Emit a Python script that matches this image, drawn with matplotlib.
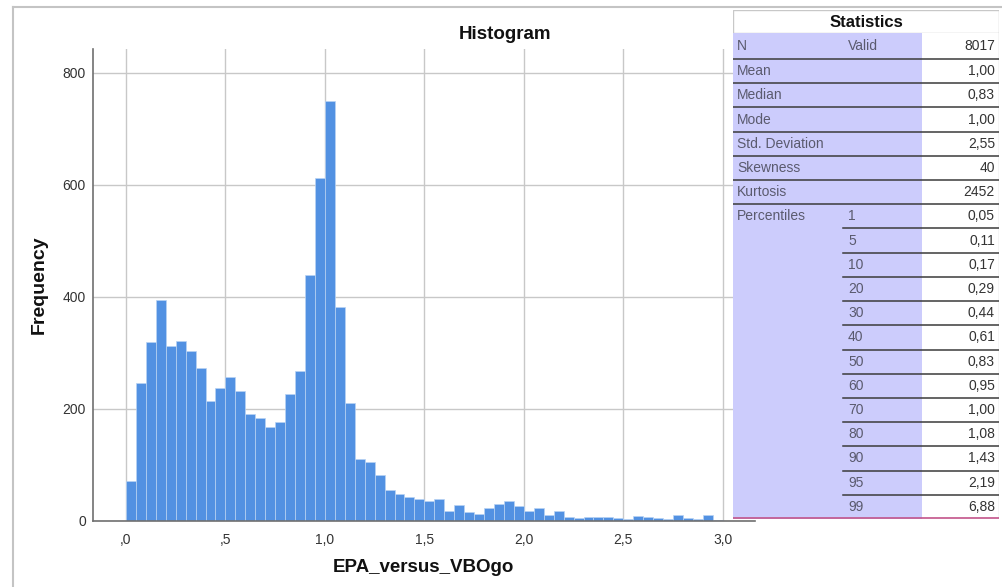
import numpy as np
import matplotlib
matplotlib.use('Agg')
import matplotlib.pyplot as plt
from matplotlib.patches import Rectangle
from matplotlib.lines import Line2D

plt.rcParams['font.family'] = ['Liberation Sans', 'DejaVu Sans']

# histogram: 60 bins of width 0.05 from 0 to 3.0
bin_width = 0.05
counts = [71, 247, 319, 395, 313, 321, 303, 273, 214, 237,
          257, 232, 190, 184, 168, 176, 227, 268, 438, 611,
          749, 382, 211, 110, 105, 82, 55, 48, 43, 39,
          35, 39, 17, 29, 16, 13, 24, 30, 36, 27,
          18, 24, 11, 17, 8, 5, 8, 8, 8, 5,
          4, 9, 7, 6, 4, 10, 6, 4, 10, 2]
xticks = [0.0, 0.5, 1.0, 1.5, 2.0, 2.5, 3.0]
xtick_labels = [',0', ',5', '1,0', '1,5', '2,0', '2,5', '3,0']
yticks = [0, 200, 400, 600, 800]

# statistics table
stat_names = ['N', 'Mean', 'Median', 'Mode', 'Std. Deviation', 'Skewness', 'Kurtosis']
stat_sub = ['Valid', '', '', '', '', '', '']
stat_values = ['8017', '1,00', '0,83', '1,00', '2,55', '40', '2452']
pct_levels = ['1', '5', '10', '20', '30', '40', '50', '60', '70', '80', '90', '95', '99']
pct_values = ['0,05', '0,11', '0,17', '0,29', '0,44', '0,61', '0,83', '0,95',
              '1,00', '1,08', '1,43', '2,19', '6,88']

W, H = 1003, 587
fig = plt.figure(figsize=(W / 100, H / 100), dpi=100)

# main histogram axes
ax = fig.add_axes([92.7 / W, (H - 521) / H, (755 - 92.7) / W, (521 - 49) / H])
edges = np.arange(len(counts)) * bin_width
ax.bar(edges, counts, width=bin_width, align='edge', color='#5291e2',
       edgecolor='#b9d3f3', linewidth=0.5, zorder=3)
ax.set_xlim(-0.167, 3.162)
ax.set_ylim(0, 842)
ax.set_xticks(xticks)
ax.set_xticklabels(xtick_labels)
ax.set_yticks(yticks)
ax.tick_params(length=0, labelsize=10, labelcolor='#333333')
ax.tick_params(axis='x', pad=9)
ax.tick_params(axis='y', pad=5)
ax.grid(True, color='#c8c8c8', linewidth=1.0, zorder=0)
for s in ['top', 'right']:
    ax.spines[s].set_visible(False)
for s in ['left', 'bottom']:
    ax.spines[s].set_color('#707070')
    ax.spines[s].set_linewidth(1.2)
    ax.spines[s].set_zorder(4)

fig.text(505.5 / W, 1 - 34.5 / H, 'Histogram', ha='center', va='center',
         fontsize=13.5, fontweight='bold', color='#111111')
fig.text(39.5 / W, 1 - 285 / H, 'Frequency', ha='center', va='center',
         rotation=90, fontsize=14, fontweight='bold', color='#111111')
fig.text(423 / W, 1 - 568 / H, 'EPA_versus_VBOgo', ha='center', va='center',
         fontsize=13.5, fontweight='bold', color='#111111')

# screenshot border
fig.add_artist(Line2D([12.7 / W, 12.7 / W], [0, 1 - 6.7 / H],
                      transform=fig.transFigure, color='#c4c4c4', lw=1.5))
fig.add_artist(Line2D([12.7 / W, 1], [1 - 6.7 / H, 1 - 6.7 / H],
                      transform=fig.transFigure, color='#c4c4c4', lw=1.5))

# table axes in pixel coordinates
tx0, tx1, ty0, ty1 = 733, 999, 10, 519
tab = fig.add_axes([tx0 / W, (H - ty1) / H, (tx1 - tx0) / W, (ty1 - ty0) / H])
tab.set_xlim(tx0, tx1)
tab.set_ylim(ty1, ty0)
tab.axis('off')
tab.set_zorder(10)

purple = '#ccccfc'
col_split = 922
head_bot = 33
row0_bot = 59
row_h = (ty1 - row0_bot) / (len(stat_names) - 1 + len(pct_levels))

tab.add_patch(Rectangle((tx0, ty0), tx1 - tx0, head_bot - ty0, facecolor='white',
                        edgecolor='#c8c8c8', lw=1.0))
tab.add_patch(Rectangle((tx0, head_bot), col_split - tx0, ty1 - head_bot,
                        facecolor=purple, edgecolor='none'))
tab.add_patch(Rectangle((col_split, head_bot), tx1 - col_split, ty1 - head_bot,
                        facecolor='white', edgecolor='none'))
tab.plot([tx1 - 0.5, tx1 - 0.5], [head_bot, ty1], color='#d0d0d0', lw=1.0)
tab.text((tx0 + tx1) / 2, (ty0 + head_bot) / 2 + 1, 'Statistics', ha='center',
         va='center', fontsize=12, fontweight='bold', color='#111111')

lab_col = '#5a5a6e'
val_col = '#333333'
x_lab, x_sub, x_val = 737, 848, 995

# N row
yc = (head_bot + row0_bot) / 2
tab.text(x_lab, yc, stat_names[0], ha='left', va='center', fontsize=10, color=lab_col)
tab.text(x_sub, yc, stat_sub[0], ha='left', va='center', fontsize=10, color=lab_col)
tab.text(x_val, yc, stat_values[0], ha='right', va='center', fontsize=10, color=val_col)
tab.plot([tx0, tx1], [row0_bot, row0_bot], color='#3a3a3a', lw=1.1)

top = row0_bot
for name, sub, val in zip(stat_names[1:], stat_sub[1:], stat_values[1:]):
    yc = top + row_h / 2
    tab.text(x_lab, yc, name, ha='left', va='center', fontsize=10, color=lab_col)
    tab.text(x_sub, yc, sub, ha='left', va='center', fontsize=10, color=lab_col)
    tab.text(x_val, yc, val, ha='right', va='center', fontsize=10, color=val_col)
    top += row_h
    tab.plot([tx0, tx1], [top, top], color='#3a3a3a', lw=1.1)

tab.text(x_lab, top + row_h / 2, 'Percentiles', ha='left', va='center',
         fontsize=10, color=lab_col)
for i, (lev, val) in enumerate(zip(pct_levels, pct_values)):
    yc = top + row_h / 2
    tab.text(x_sub, yc, lev, ha='left', va='center', fontsize=10, color=lab_col)
    tab.text(x_val, yc, val, ha='right', va='center', fontsize=10, color=val_col)
    top += row_h
    if i < len(pct_levels) - 1:
        tab.plot([843, tx1], [top, top], color='#3a3a3a', lw=1.1)
tab.plot([tx0, tx1], [ty1 - 0.8, ty1 - 0.8], color='#c2548a', lw=1.2)

fig.savefig('out.png', dpi=100)
